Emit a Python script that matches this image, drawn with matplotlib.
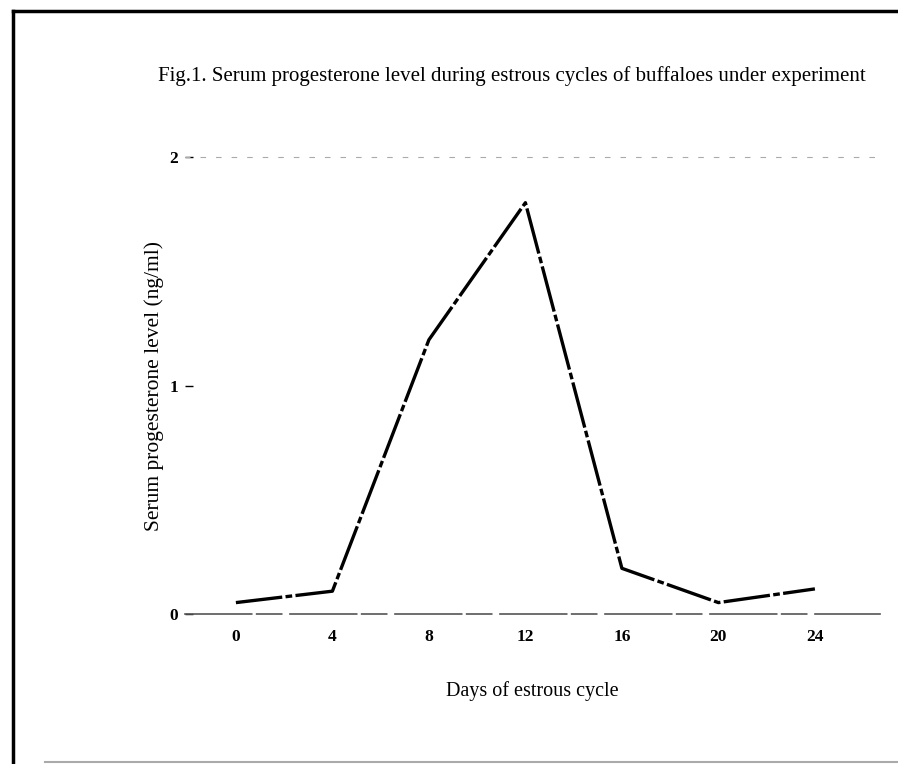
import matplotlib
matplotlib.use("Agg")
import matplotlib.pyplot as plt
from matplotlib.lines import Line2D

days = [0, 4, 8, 12, 16, 20, 24]
progesterone = [0.05, 0.10, 1.20, 1.80, 0.20, 0.05, 0.11]
xticks = [0, 4, 8, 12, 16, 20, 24]
yticks = [0, 1, 2]
yticklabels = ["0", "1", "2"]

title = "Fig.1. Serum progesterone level during estrous cycles of buffaloes under experiment"
xlabel = "Days of estrous cycle"
ylabel = "Serum progesterone level (ng/ml)"

plt.rcParams['font.family'] = ['Liberation Serif', 'DejaVu Serif']

fig = plt.figure(figsize=(8.98, 7.64), dpi=100)
ax = fig.add_axes([0.206, 0.1963, 0.774, 0.5982])

ax.plot(days, progesterone, color='black', lw=2.4,
        linestyle=(0, (14, 1.0, 2, 1.0)), solid_capstyle='round')

ax.set_xlim(-2.11, 26.7)
ax.set_ylim(0, 2)
ax.set_xticks(xticks)
ax.set_yticks(yticks)
ax.set_yticklabels(yticklabels)
ax.tick_params(axis='x', length=0, pad=11, labelsize=12.5)
ax.tick_params(axis='y', direction='in', length=6, width=1, pad=5, labelsize=12.5)
for lab in ax.get_xticklabels() + ax.get_yticklabels():
    lab.set_fontweight('bold')

ax.spines['left'].set_visible(False)
ax.spines['right'].set_visible(False)
ax.spines['top'].set_color('#aaaaaa')
ax.spines['top'].set_linewidth(0.8)
ax.spines['top'].set_linestyle((0, (4, 10)))
ax.spines['bottom'].set_color('#555555')
ax.spines['bottom'].set_linewidth(1.2)
ax.spines['bottom'].set_linestyle((0, (40, 3, 15, 5)))

ax.set_xlabel(xlabel, fontsize=14.5, labelpad=26)
ax.set_ylabel(ylabel, fontsize=15.5, labelpad=4)

fig.text(0.57, 0.900, title, fontsize=15, ha='center', va='center')

# scanned page frame
fig.add_artist(Line2D([13/898, 13/898], [0.002, 1 - 11/764], color='black', lw=2.5, transform=fig.transFigure))
fig.add_artist(Line2D([13/898, 1.0], [1 - 11/764, 1 - 11/764], color='black', lw=2.5, transform=fig.transFigure))
fig.add_artist(Line2D([0.05, 1.0], [0.003, 0.003], color='#aaaaaa', lw=1.5, transform=fig.transFigure))

fig.savefig("out.png", dpi=100)
